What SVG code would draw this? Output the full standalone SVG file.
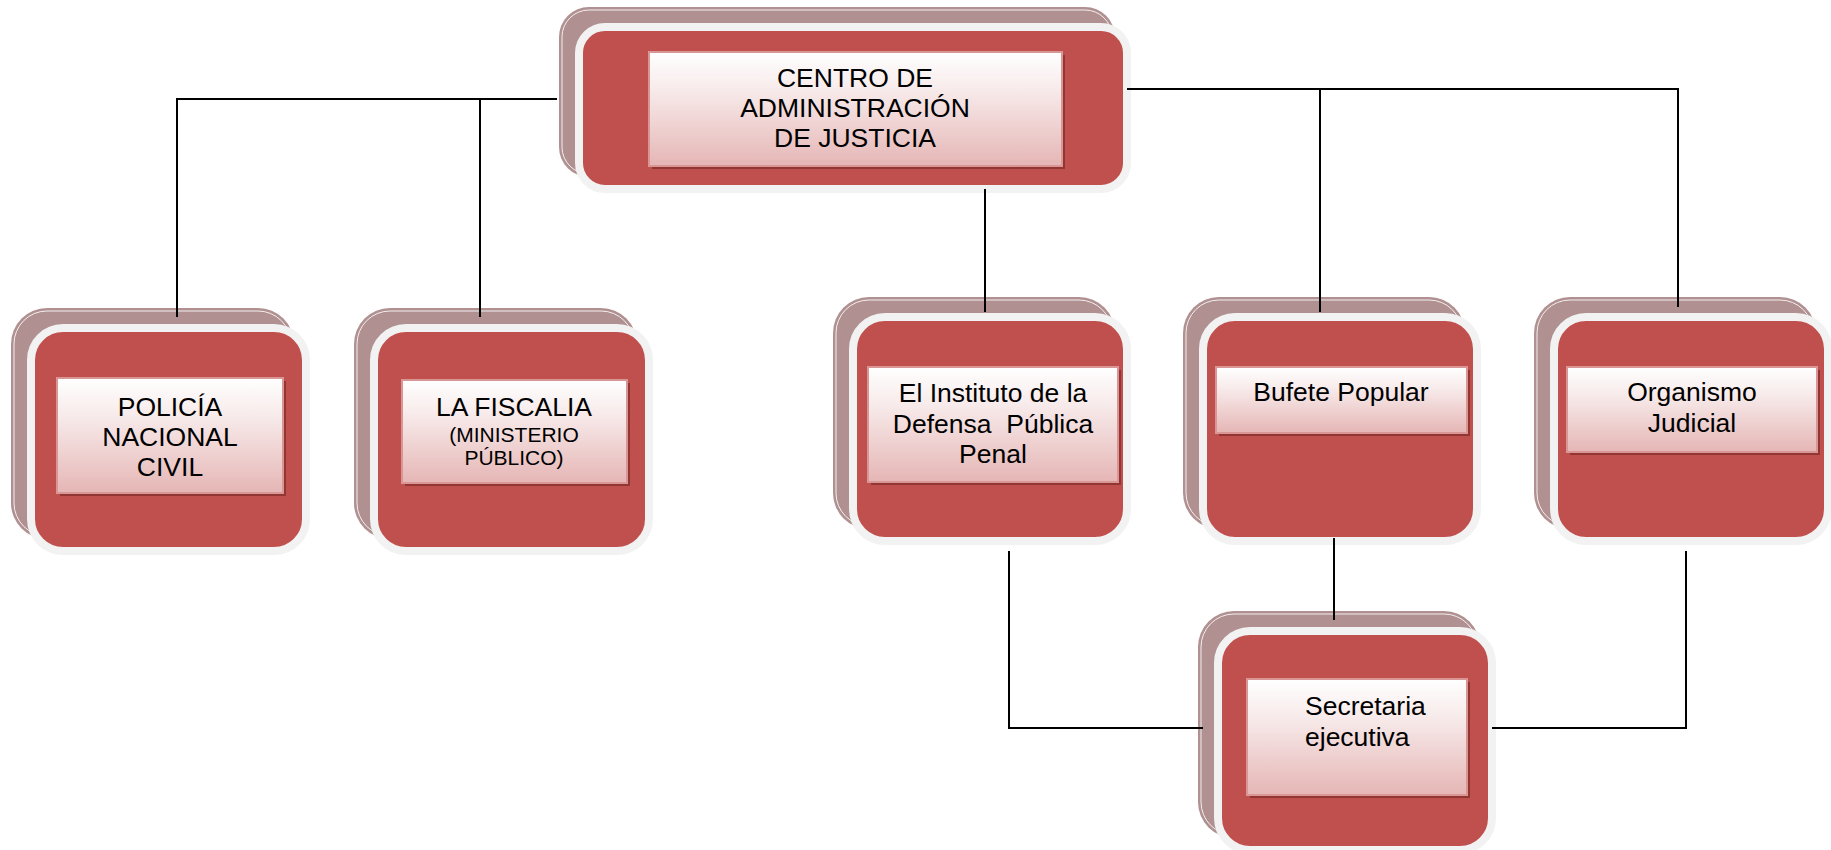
<svg xmlns="http://www.w3.org/2000/svg" width="1831" height="850" viewBox="0 0 1831 850">
<defs>
<linearGradient id="lg" x1="0" y1="0" x2="0" y2="1">
<stop offset="0" stop-color="#ffffff"/>
<stop offset="0.35" stop-color="#f7e9e9"/>
<stop offset="1" stop-color="#e5b6b5"/>
</linearGradient>
<style>
.back{fill:#b09090;}
.hl{fill:none;stroke:#ffffff;stroke-width:1;opacity:0.85;}
.front{fill:#c0504d;stroke:#f2f2f2;stroke-width:8;}
.sh{fill:#923634;}
.lab{fill:url(#lg);stroke:#d99694;stroke-width:2;}
text{font-family:"Liberation Sans",Arial,sans-serif;font-size:26.5px;fill:#000;text-anchor:middle;white-space:pre;}
.sm{font-size:21px;}
.conn{fill:none;stroke:#000;stroke-width:2;}
</style>
</defs>
<rect width="1831" height="850" fill="#ffffff"/>

<g id="n-main">
<rect class="back" x="559" y="7" width="556" height="170" rx="30"/>
<rect class="hl" x="562" y="10" width="550" height="164" rx="27"/>
<rect class="front" x="579" y="27" width="548" height="162" rx="26"/>
<rect class="sh" x="652" y="55" width="413" height="114"/>
<rect class="lab" x="649" y="52" width="413" height="114"/>
<text x="855" y="87">CENTRO DE</text>
<text x="855" y="117">ADMINISTRACIÓN</text>
<text x="855" y="147">DE JUSTICIA</text>
</g>

<g id="n-policia">
<rect class="back" x="11" y="308" width="283" height="231" rx="36"/>
<rect class="hl" x="14" y="311" width="277" height="225" rx="33"/>
<rect class="front" x="31" y="328" width="275" height="223" rx="32"/>
<rect class="sh" x="60" y="381" width="226" height="115"/>
<rect class="lab" x="57" y="378" width="226" height="115"/>
<text x="170" y="416">POLICÍA</text>
<text x="170" y="446">NACIONAL</text>
<text x="170" y="476">CIVIL</text>
</g>

<g id="n-fiscalia">
<rect class="back" x="354" y="308" width="283" height="231" rx="36"/>
<rect class="hl" x="357" y="311" width="277" height="225" rx="33"/>
<rect class="front" x="374" y="328" width="275" height="223" rx="32"/>
<rect class="sh" x="405" y="383" width="225" height="103"/>
<rect class="lab" x="402" y="380" width="225" height="103"/>
<text x="514" y="416">LA FISCALIA</text>
<text class="sm" x="514" y="442">(MINISTERIO</text>
<text class="sm" x="514" y="465">PÚBLICO)</text>
</g>

<g id="n-instituto">
<rect class="back" x="833" y="297" width="282" height="232" rx="36"/>
<rect class="hl" x="836" y="300" width="276" height="226" rx="33"/>
<rect class="front" x="853" y="317" width="274" height="224" rx="32"/>
<rect class="sh" x="871" y="370" width="250" height="115"/>
<rect class="lab" x="868" y="367" width="250" height="115"/>
<text x="993" y="402">El Instituto de la</text>
<text x="993" y="433">Defensa  Pública</text>
<text x="993" y="463">Penal</text>
</g>

<g id="n-bufete">
<rect class="back" x="1183" y="297" width="282" height="232" rx="36"/>
<rect class="hl" x="1186" y="300" width="276" height="226" rx="33"/>
<rect class="front" x="1203" y="317" width="274" height="224" rx="32"/>
<rect class="sh" x="1219" y="370" width="251" height="66"/>
<rect class="lab" x="1216" y="367" width="251" height="66"/>
<text x="1341" y="401">Bufete Popular</text>
</g>

<g id="n-organismo">
<rect class="back" x="1534" y="297" width="282" height="232" rx="36"/>
<rect class="hl" x="1537" y="300" width="276" height="226" rx="33"/>
<rect class="front" x="1554" y="317" width="274" height="224" rx="32"/>
<rect class="sh" x="1570" y="370" width="250" height="85"/>
<rect class="lab" x="1567" y="367" width="250" height="85"/>
<text x="1692" y="401">Organismo</text>
<text x="1692" y="432">Judicial</text>
</g>

<g id="n-secretaria">
<rect class="back" x="1198" y="611" width="282" height="227" rx="36"/>
<rect class="hl" x="1201" y="614" width="276" height="221" rx="33"/>
<rect class="front" x="1218" y="631" width="274" height="219" rx="32"/>
<rect class="sh" x="1250" y="682" width="220" height="116"/>
<rect class="lab" x="1247" y="679" width="220" height="116"/>
<text x="1305" y="715" style="text-anchor:start">Secretaria</text>
<text x="1305" y="746" style="text-anchor:start">ejecutiva</text>
</g>

<g id="connectors">
<path class="conn" d="M557,99 H177 V317"/>
<path class="conn" d="M480,99 V317"/>
<path class="conn" d="M1127,89 H1678 V307"/>
<path class="conn" d="M1320,89 V312"/>
<path class="conn" d="M985,189 V312"/>
<path class="conn" d="M1009,551 V728 H1203"/>
<path class="conn" d="M1334,538 V620"/>
<path class="conn" d="M1686,551 V728 H1492"/>
</g>
</svg>
